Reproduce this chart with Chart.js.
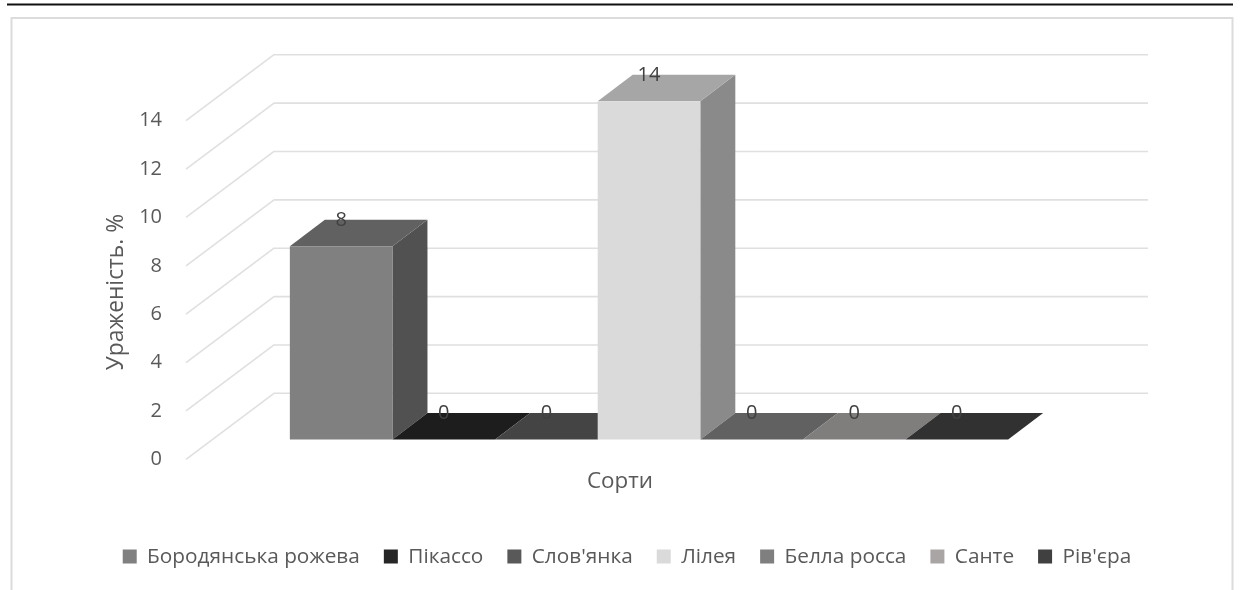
<!DOCTYPE html>
<html>
<head>
<meta charset="utf-8">
<style>
  html, body { margin: 0; padding: 0; background: #fff; }
  canvas { display: block; }
</style>
<script src="https://cdn.jsdelivr.net/npm/chart.js@4"></script>
</head>
<body>
<canvas id="chart" width="1240" height="590"></canvas>
<script>
// Infection rate per potato variety, shown as a pseudo-3D column chart.
const categories = ['Сорти'];
const varieties = ['Бородянська рожева', 'Пікассо', "Слов'янка", 'Лілея', 'Белла росса', 'Санте', "Рів'єра"];
const infection = [8, 0, 0, 14, 0, 0, 0];
const yTickValues = [0, 2, 4, 6, 8, 10, 12, 14];
const faceColors = ['#808080', '#262626', '#595959', '#dadada', '#7f7f7f', '#a9a5a5', '#404040'];

const FONT = '"Open Sans", "Noto Sans", sans-serif';
const TEXT = '#595959';
const GRID = '#e0e0e0';
const WALL = { dx: 88, dy: 66, right: 1148 };   // floor depth of the back wall
const BAR = { dx: 35, dy: 26.5 };               // depth of one column

function shade(hex, k) {
  const n = parseInt(hex.slice(1), 16);
  const c = [n >> 16, (n >> 8) & 255, n & 255].map(v => Math.round(v * k));
  return `rgb(${c[0]},${c[1]},${c[2]})`;
}

function poly(ctx, pts, fill) {
  ctx.beginPath();
  pts.forEach((p, i) => (i ? ctx.lineTo(p[0], p[1]) : ctx.moveTo(p[0], p[1])));
  ctx.closePath();
  ctx.fillStyle = fill;
  ctx.fill();
}

const frame = {
  id: 'frame',
  afterLayout(chart) {
    // The legend row sits slightly right of the chart's centre.
    chart.legend.left += 7;
    chart.legend.right += 7;
    // The axis title is centred on the front plane, below the middle of the scale box.
    chart.scales.y.top += 72;
  },
  beforeDraw(chart) {
    const { ctx, width, height } = chart;
    ctx.save();
    ctx.fillStyle = '#fff';
    ctx.fillRect(0, 0, width, height);
    ctx.strokeStyle = '#111';
    ctx.lineWidth = 2;
    ctx.beginPath();
    ctx.moveTo(7, 4.5);
    ctx.lineTo(1233, 4.5);
    ctx.stroke();
    ctx.strokeStyle = '#dcdcdc';
    ctx.beginPath();
    ctx.moveTo(11.5, height);
    ctx.lineTo(11.5, 18);
    ctx.lineTo(1232.5, 18);
    ctx.lineTo(1232.5, height);
    ctx.stroke();
    ctx.restore();
  }
};

// Side and back wall gridlines, then the side and top faces of every column.
const depth = {
  id: 'depth',
  beforeDatasetsDraw(chart) {
    const { ctx, scales } = chart;
    const area = chart.chartArea;
    ctx.save();
    ctx.strokeStyle = GRID;
    ctx.lineWidth = 1.6;
    ctx.lineJoin = 'round';
    yTickValues.forEach(v => {
      const y = scales.y.getPixelForValue(v);
      ctx.beginPath();
      ctx.moveTo(area.left, y);
      ctx.lineTo(area.left + WALL.dx, y - WALL.dy);
      ctx.lineTo(WALL.right, y - WALL.dy);
      ctx.stroke();
    });
    chart.data.datasets.forEach((ds, i) => {
      const bar = chart.getDatasetMeta(i).data[0];
      const half = bar.width / 2;
      const l = bar.x - half, r = bar.x + half;
      const top = bar.y, base = bar.base;
      if (base > top) {
        poly(ctx, [[r, base], [r + BAR.dx, base - BAR.dy], [r + BAR.dx, top - BAR.dy], [r, top]], shade(faceColors[i], 0.635));
      }
      poly(ctx, [[l, top], [l + BAR.dx, top - BAR.dy], [r + BAR.dx, top - BAR.dy], [r, top]], shade(faceColors[i], 0.76));
    });
    ctx.restore();
  },
  afterDatasetsDraw(chart) {
    const { ctx } = chart;
    ctx.save();
    ctx.font = `20px ${FONT}`;
    ctx.fillStyle = '#404040';
    ctx.textAlign = 'center';
    ctx.textBaseline = 'middle';
    chart.data.datasets.forEach((ds, i) => {
      const bar = chart.getDatasetMeta(i).data[0];
      ctx.fillText(String(ds.data[0]), bar.x, bar.y - BAR.dy);
    });
    ctx.restore();
  }
};

new Chart(document.getElementById('chart'), {
  type: 'bar',
  data: {
    labels: categories,
    datasets: varieties.map((name, i) => ({
      label: name,
      data: [infection[i]],
      backgroundColor: faceColors[i],
      yAxisID: 'yBars'
    }))
  },
  options: {
    responsive: false,
    animation: false,
    layout: { padding: { top: 53, bottom: 13 } },
    categoryPercentage: 0.7757,
    barPercentage: 1,
    scales: {
      x: { display: false },
      y: {
        position: 'left',
        min: 0,
        max: 16.8,
        afterBuildTicks: s => { s.ticks = yTickValues.map(value => ({ value })); },
        afterFit: s => { s.width = 186; },
        border: { display: false },
        grid: { display: false },
        ticks: { color: TEXT, font: { family: FONT, size: 20 }, padding: 16 },
        title: {
          display: true,
          text: 'Ураженість. %',
          color: TEXT,
          font: { family: FONT, size: 22.8 },
          padding: { top: 103, bottom: 0 }
        }
      },
      yBars: {
        position: 'right',
        min: -0.816,
        max: 16,
        afterFit: s => { s.width = 128; },
        border: { display: false },
        grid: { display: false },
        ticks: { display: false }
      }
    },
    plugins: {
      tooltip: { enabled: false },
      title: {
        display: true,
        text: 'Сорти',
        position: 'bottom',
        weight: 500,
        color: TEXT,
        font: { family: FONT, size: 22.4, weight: 'normal' },
        padding: { top: 9, bottom: 27 }
      },
      legend: {
        position: 'bottom',
        weight: 1000,
        labels: {
          color: TEXT,
          font: { family: FONT, size: 20.8 },
          boxWidth: 14,
          boxHeight: 14,
          padding: 24
        }
      }
    }
  },
  plugins: [frame, depth]
});
</script>
</body>
</html>
